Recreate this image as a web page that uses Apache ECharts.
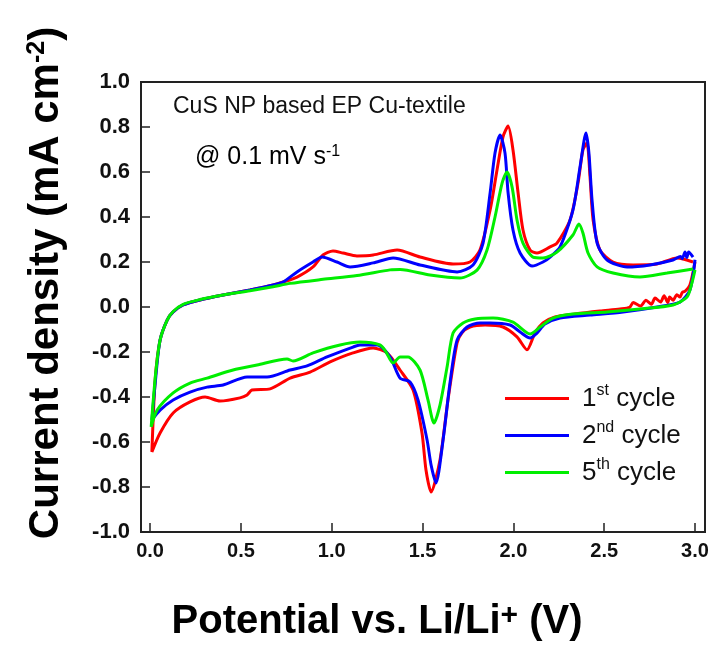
<!DOCTYPE html>
<html>
<head>
<meta charset="utf-8">
<script src="https://cdn.jsdelivr.net/npm/echarts@6/dist/echarts.min.js"></script>
<style>
html,body{margin:0;padding:0;background:#fff;}
#chart{width:715px;height:650px;}
</style>
</head>
<body>
<div id="chart"></div>
<script>
// ---- Tick labels ----
const xTicks = [0.0, 0.5, 1.0, 1.5, 2.0, 2.5, 3.0];
const yTicks = [-1.0, -0.8, -0.6, -0.4, -0.2, 0.0, 0.2, 0.4, 0.6, 0.8, 1.0];

// ---- 1st cycle (red): cathodic scan 3.0 -> 0.0, then anodic scan 0.0 -> 3.0 ----
const cycle1Potential = [3.0, 2.972, 2.945, 2.93, 2.917, 2.9, 2.88, 2.86, 2.85, 2.83, 2.81, 2.78, 2.76, 2.73, 2.70, 2.66, 2.64, 2.587, 2.477, 2.339, 2.229, 2.163, 2.119, 2.075, 2.02, 1.943, 1.844, 1.761, 1.717, 1.69, 1.64, 1.596, 1.547, 1.519, 1.497, 1.448, 1.376, 1.305, 1.228, 1.117, 0.991, 0.881, 0.771, 0.661, 0.561, 0.534, 0.495, 0.385, 0.303, 0.22, 0.127, 0.055, 0.01,
  0.028, 0.055, 0.094, 0.127, 0.182, 0.275, 0.402, 0.55, 0.677, 0.732, 0.809, 0.897, 0.952, 1.007, 1.062, 1.139, 1.228, 1.36, 1.486, 1.668, 1.761, 1.816, 1.872, 1.91, 1.943, 1.971, 1.998, 2.026, 2.053, 2.092, 2.13, 2.202, 2.24, 2.312, 2.356, 2.383, 2.405, 2.422, 2.439, 2.477, 2.549, 2.659, 2.791, 2.901, 2.989];
const cycle1Current = [0.20, 0.098, 0.07, 0.065, 0.044, 0.055, 0.03, 0.045, 0.02, 0.05, 0.022, 0.04, 0.012, 0.03, 0.004, 0.02, -0.002, -0.009, -0.018, -0.031, -0.044, -0.071, -0.115, -0.19, -0.133, -0.089, -0.08, -0.089, -0.115, -0.16, -0.413, -0.68, -0.822, -0.724, -0.56, -0.369, -0.28, -0.204, -0.182, -0.204, -0.244, -0.289, -0.316, -0.364, -0.369, -0.391, -0.404, -0.418, -0.40, -0.422, -0.471, -0.56, -0.644,
  -0.324, -0.147, -0.058, -0.022, 0.009, 0.031, 0.053, 0.076, 0.098, 0.111, 0.133, 0.178, 0.231, 0.249, 0.24, 0.227, 0.231, 0.253, 0.222, 0.191, 0.20, 0.253, 0.431, 0.609, 0.756, 0.804, 0.698, 0.507, 0.342, 0.253, 0.24, 0.267, 0.284, 0.387, 0.551, 0.698, 0.729, 0.578, 0.387, 0.253, 0.20, 0.187, 0.191, 0.218, 0.20];

// ---- 2nd cycle (blue) ----
const cycle2Potential = [3.0, 2.972, 2.917, 2.791, 2.604, 2.422, 2.257, 2.174, 2.13, 2.092, 2.037, 1.982, 1.872, 1.816, 1.745, 1.69, 1.651, 1.613, 1.574, 1.547, 1.525, 1.475, 1.431, 1.376, 1.321, 1.25, 1.156, 1.117, 0.974, 0.864, 0.771, 0.644, 0.534, 0.402, 0.314, 0.22, 0.127, 0.055, 0.01,
  0.035, 0.055, 0.094, 0.127, 0.182, 0.275, 0.402, 0.55, 0.677, 0.732, 0.809, 0.897, 0.947, 1.029, 1.101, 1.228, 1.338, 1.486, 1.69, 1.778, 1.833, 1.872, 1.899, 1.927, 1.954, 1.971, 1.998, 2.037, 2.103, 2.163, 2.202, 2.257, 2.328, 2.367, 2.40, 2.416, 2.433, 2.461, 2.516, 2.626, 2.752, 2.879, 2.92, 2.93, 2.945, 2.955, 2.965, 2.989];
const cycle2Current = [0.21, 0.076, 0.022, 0.0, -0.022, -0.036, -0.049, -0.076, -0.116, -0.138, -0.111, -0.08, -0.071, -0.071, -0.089, -0.147, -0.338, -0.591, -0.782, -0.702, -0.591, -0.413, -0.333, -0.316, -0.222, -0.169, -0.169, -0.178, -0.222, -0.262, -0.28, -0.311, -0.311, -0.347, -0.356, -0.378, -0.413, -0.458, -0.502,
  -0.28, -0.147, -0.058, -0.022, 0.009, 0.031, 0.053, 0.076, 0.098, 0.111, 0.156, 0.20, 0.222, 0.20, 0.178, 0.196, 0.218, 0.187, 0.156, 0.187, 0.284, 0.507, 0.684, 0.764, 0.684, 0.507, 0.342, 0.24, 0.182, 0.20, 0.222, 0.267, 0.431, 0.622, 0.773, 0.684, 0.476, 0.284, 0.209, 0.178, 0.187, 0.209, 0.225, 0.215, 0.245, 0.22, 0.245, 0.222];

// ---- 5th cycle (green) ----
const cycle5Potential = [3.0, 2.983, 2.956, 2.879, 2.697, 2.516, 2.328, 2.218, 2.147, 2.092, 1.998, 1.888, 1.789, 1.723, 1.668, 1.635, 1.596, 1.563, 1.53, 1.486, 1.42, 1.376, 1.338, 1.299, 1.266, 1.156, 1.046, 0.897, 0.787, 0.754, 0.589, 0.457, 0.314, 0.22, 0.127, 0.039, 0.006,
  0.03, 0.055, 0.094, 0.127, 0.182, 0.275, 0.402, 0.55, 0.677, 0.771, 0.952, 1.139, 1.321, 1.376, 1.541, 1.706, 1.80, 1.855, 1.899, 1.938, 1.965, 1.993, 2.02, 2.053, 2.108, 2.163, 2.24, 2.328, 2.361, 2.383, 2.411, 2.461, 2.549, 2.697, 2.846, 2.989];
const cycle5Current = [0.165, 0.107, 0.044, 0.009, -0.009, -0.022, -0.031, -0.049, -0.089, -0.12, -0.067, -0.049, -0.053, -0.071, -0.116, -0.267, -0.436, -0.516, -0.413, -0.28, -0.222, -0.222, -0.249, -0.20, -0.169, -0.156, -0.169, -0.204, -0.24, -0.231, -0.258, -0.28, -0.316, -0.338, -0.382, -0.458, -0.533,
  -0.3, -0.147, -0.058, -0.02, 0.012, 0.033, 0.053, 0.072, 0.09, 0.105, 0.123, 0.14, 0.165, 0.167, 0.142, 0.129, 0.164, 0.253, 0.40, 0.551, 0.60, 0.533, 0.387, 0.284, 0.222, 0.218, 0.244, 0.32, 0.369, 0.329, 0.24, 0.178, 0.151, 0.133, 0.151, 0.169];

const seriesNames = ['1st cycle', '2nd cycle', '5th cycle'];
const seriesColors = ['#ff0000', '#0000ff', '#00ee00'];

function pairs(xs, ys) { return xs.map((x, i) => [x, ys[i]]); }

const FONT = "Arial, 'Liberation Sans', sans-serif";
const chart = echarts.init(document.getElementById('chart'));

const legendRich = {
  n: { fontSize: 26, fontFamily: FONT, color: '#111' },
  s: { fontSize: 16, fontFamily: FONT, color: '#111', verticalAlign: 'top', padding: [0, 0, 10, 0] }
};
const legendLabels = {
  '1st cycle': '{n|1}{s|st}{n| cycle}',
  '2nd cycle': '{n|2}{s|nd}{n| cycle}',
  '5th cycle': '{n|5}{s|th}{n| cycle}'
};

chart.setOption({
  animation: false,
  backgroundColor: '#fff',
  grid: { left: 141, top: 82, right: 10, bottom: 118, show: true, borderColor: '#222', borderWidth: 2, backgroundColor: 'transparent' },
  xAxis: {
    type: 'value', min: -0.05, max: 3.055,
    axisLine: { show: true, onZero: false, lineStyle: { color: '#222', width: 2 } },
    axisTick: { show: true, inside: true, length: 9, customValues: xTicks, lineStyle: { color: '#222', width: 1.5 } },
    axisLabel: { customValues: xTicks, formatter: v => v.toFixed(1), fontSize: 20, fontWeight: 'bold', fontFamily: FONT, color: '#111', margin: 9 },
    splitLine: { show: false }
  },
  yAxis: {
    type: 'value', min: -1, max: 1, interval: 0.2,
    axisLine: { show: true, onZero: false, lineStyle: { color: '#222', width: 2 } },
    axisTick: { show: true, inside: true, length: 9, lineStyle: { color: '#222', width: 1.5 } },
    axisLabel: { formatter: v => v.toFixed(1), fontSize: 22, fontWeight: 'bold', fontFamily: FONT, color: '#111', margin: 11 },
    splitLine: { show: false }
  },
  legend: {
    orient: 'vertical', left: 500, top: 378, icon: 'rect', itemWidth: 64, itemHeight: 3, itemGap: 6,
    data: seriesNames,
    formatter: name => legendLabels[name],
    textStyle: { rich: legendRich, padding: [0, 0, 0, 8], lineHeight: 31 }
  },
  graphic: [
    { type: 'text', left: 173, top: 95, style: { text: 'CuS NP based EP Cu-textile', fontSize: 23, fontFamily: FONT, fill: '#111' } },
    { type: 'text', left: 195, top: 144, style: {
      text: '{a|@ 0.1 mV s}{b|-1}',
      rich: { a: { fontSize: 25, fontFamily: FONT, color: '#111' }, b: { fontSize: 16, fontFamily: FONT, color: '#111', verticalAlign: 'top', padding: [0, 0, 10, 0] } }
    } },
    { type: 'text', x: 377, y: 622, style: {
      text: '{a|Potential vs. Li/Li}{b|+}{a| (V)}', align: 'center', verticalAlign: 'middle',
      rich: { a: { fontSize: 40, fontWeight: 'bold', fontFamily: FONT, color: '#000' }, b: { fontSize: 30, fontWeight: 'bold', fontFamily: FONT, color: '#000', verticalAlign: 'top', padding: [0, 0, 12, 0] } }
    } },
    { type: 'text', x: 46, y: 283, rotation: Math.PI / 2, style: {
      text: '{a|Current density (mA cm}{b|-2}{a|)}', align: 'center', verticalAlign: 'middle',
      rich: { a: { fontSize: 42, fontWeight: 'bold', fontFamily: FONT, color: '#000' }, b: { fontSize: 25, fontWeight: 'bold', fontFamily: FONT, color: '#000', verticalAlign: 'top', padding: [0, 0, 16, 0] } }
    } }
  ],
  series: [
    { name: seriesNames[0], type: 'line', data: pairs(cycle1Potential, cycle1Current), color: seriesColors[0], showSymbol: false, smooth: 0.25, lineStyle: { width: 3 } },
    { name: seriesNames[1], type: 'line', data: pairs(cycle2Potential, cycle2Current), color: seriesColors[1], showSymbol: false, smooth: 0.25, lineStyle: { width: 3 } },
    { name: seriesNames[2], type: 'line', data: pairs(cycle5Potential, cycle5Current), color: seriesColors[2], showSymbol: false, smooth: 0.25, lineStyle: { width: 3 } }
  ]
});
</script>
</body>
</html>
